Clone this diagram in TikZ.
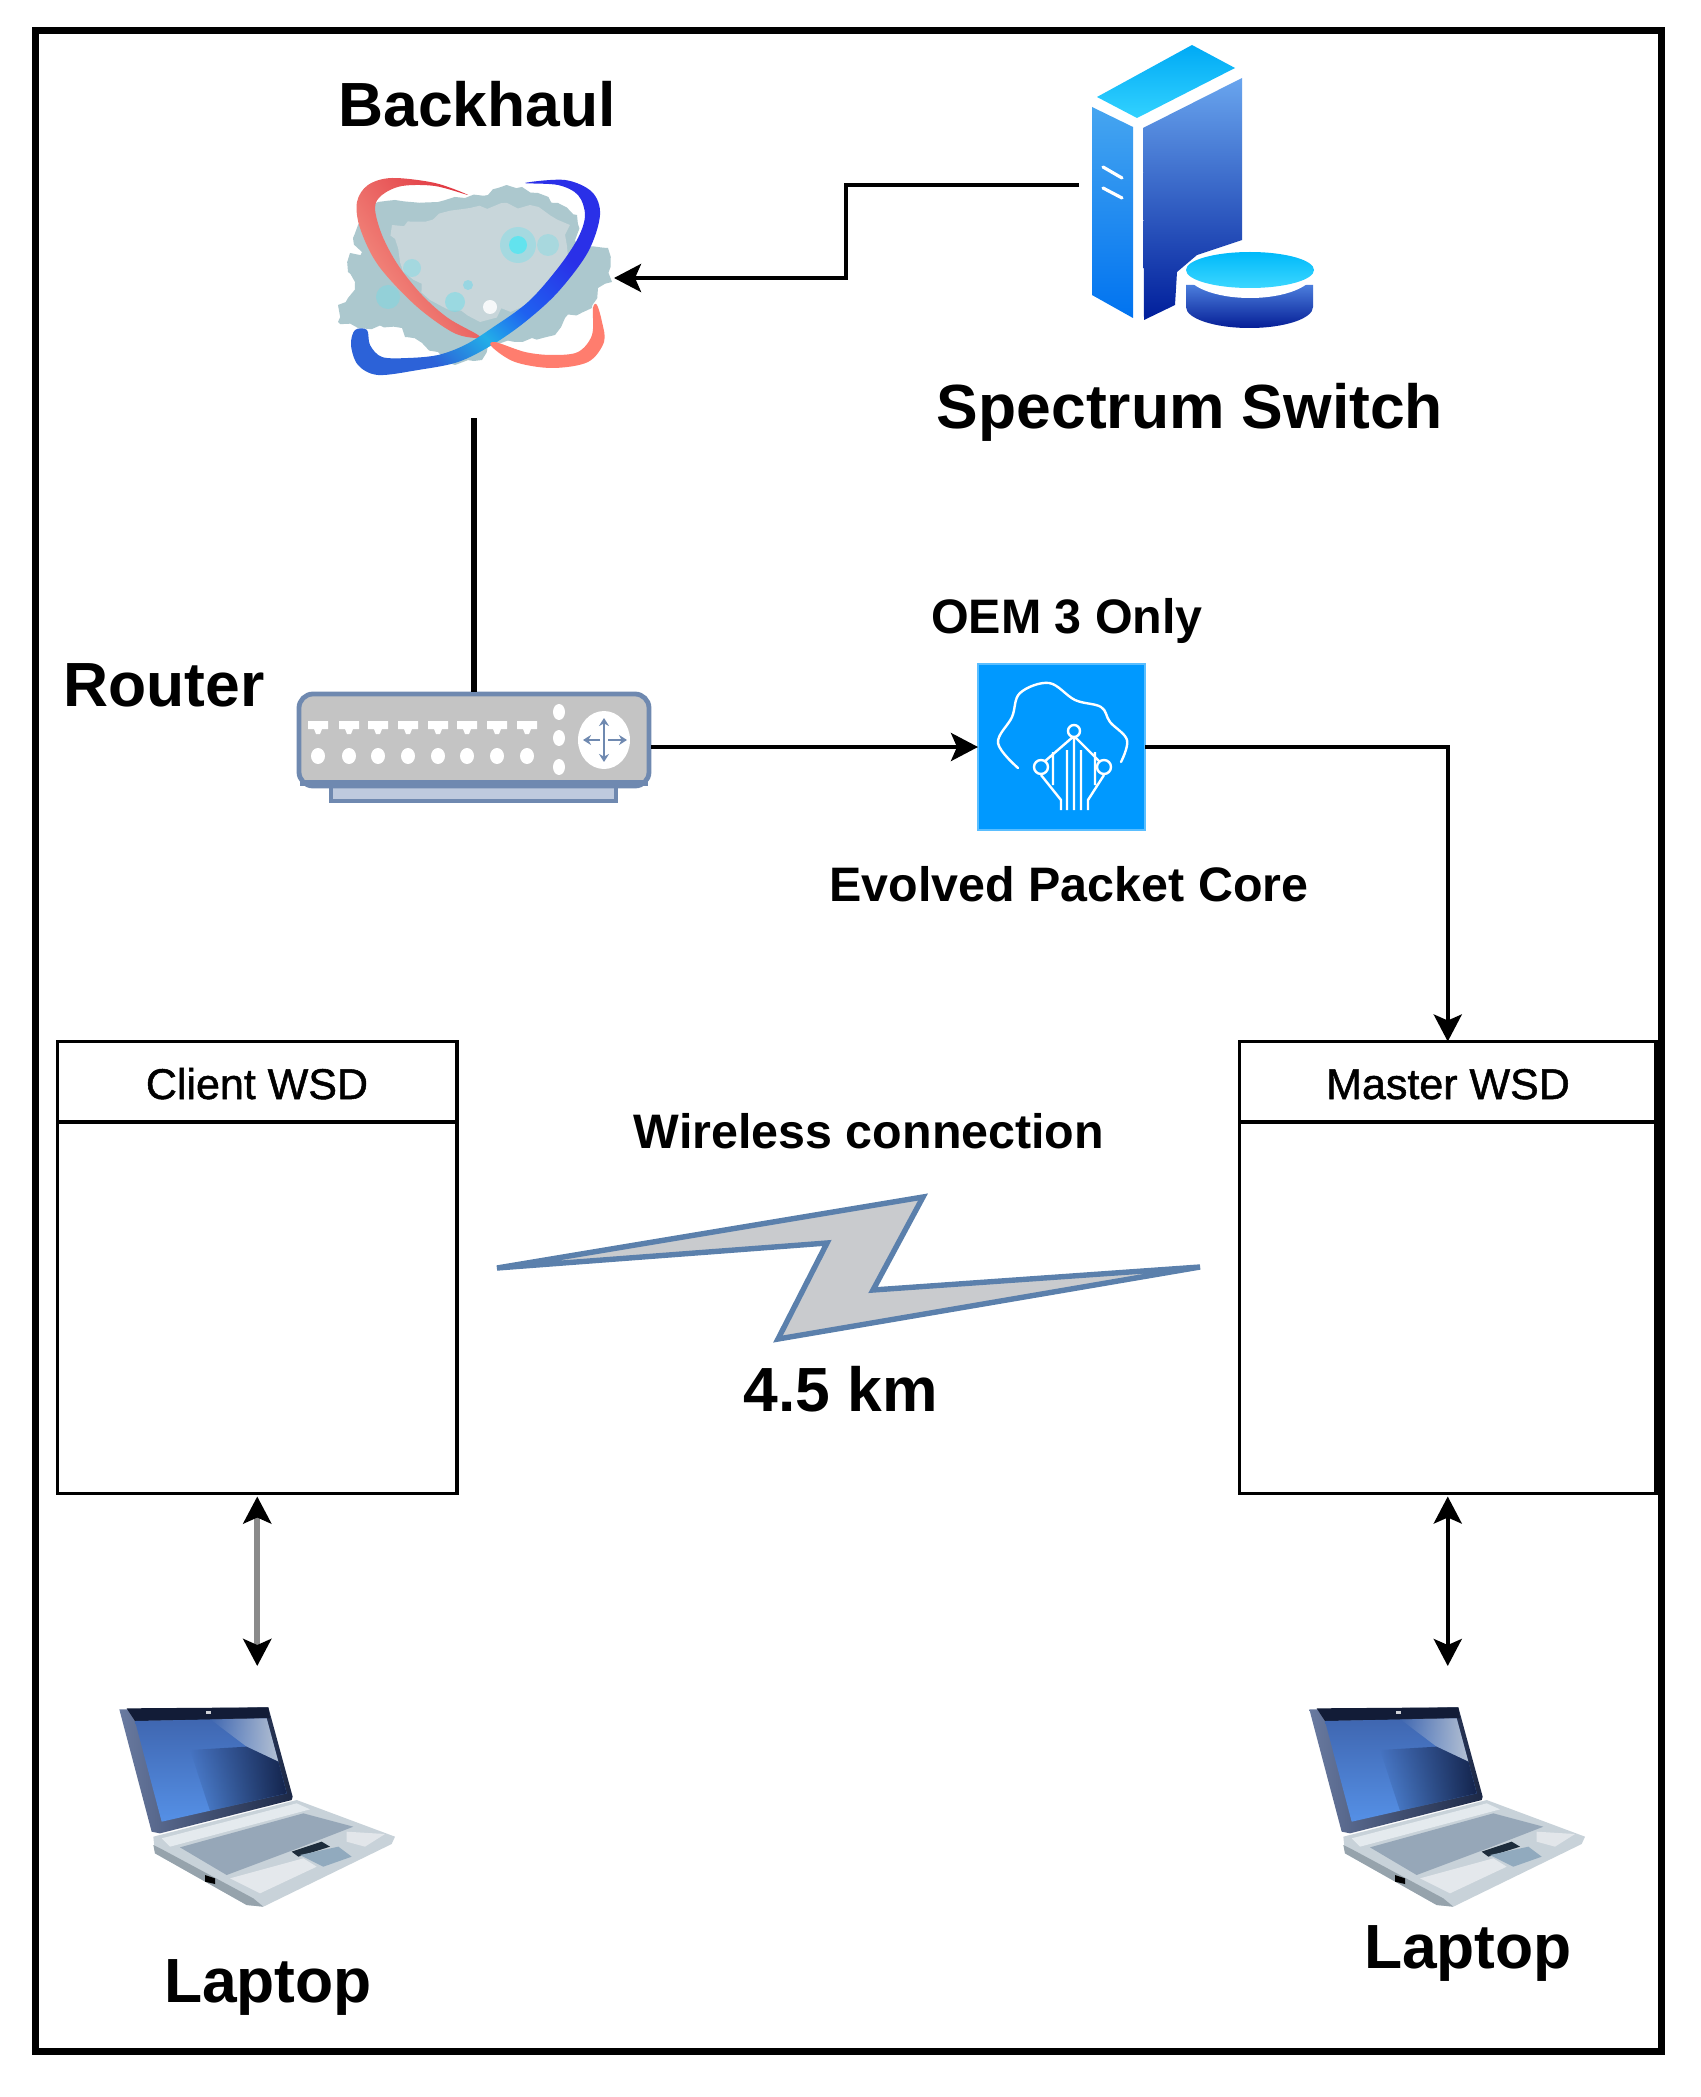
\documentclass[tikz,border=0pt]{standalone}
\usepackage{fontspec}
\setmainfont{Liberation Sans}
\newfontfamily\wsdfont{Liberation Sans}[FakeBold=1.2]
\usetikzlibrary{arrows.meta,shapes.geometric,calc,decorations.pathmorphing,fadings}
\definecolor{rtLine}{HTML}{6F89B0}
\definecolor{rtFill}{HTML}{C4C4C4}
\definecolor{epcBlue}{HTML}{0099FF}
\definecolor{boltLine}{HTML}{5B80AC}
\definecolor{boltFill}{HTML}{C9CBCE}
\definecolor{ringA}{HTML}{2C62D8}
\definecolor{ringB}{HTML}{22AEE8}
\definecolor{ringC}{HTML}{1F62F0}
\definecolor{ringD}{HTML}{2A30E8}
\definecolor{scrA}{HTML}{5590E6}
\definecolor{scrB}{HTML}{3F66B0}
\definecolor{scrC}{HTML}{14244C}
\definecolor{scrD}{HTML}{B4C0D2}
\pgfdeclareverticalshading{ringShade}{100bp}{color(0bp)=(ringA); color(30bp)=(ringA); color(42bp)=(ringB); color(52bp)=(ringC); color(68bp)=(ringD); color(100bp)=(ringD)}
\tikzset{
  iconbox/.style={inner sep=0,outer sep=0,minimum width=#1},
  ghost/.style={draw=none,fill=none},
  big/.style={anchor=base,inner sep=0,font=\fontsize{31.2}{36}\selectfont\bfseries},
  mid/.style={anchor=base,inner sep=0,font=\fontsize{24.2}{29}\selectfont\bfseries},
  small/.style={anchor=base,inner sep=0,font=\wsdfont\fontsize{21.5}{26}\selectfont},
  wsd/.style={draw=black,line width=1.6pt,fill=white,inner sep=0,outer sep=0,minimum width=#1,minimum height=226pt},
  link/.style={draw=black,line width=2pt},
  tip/.style={-{Stealth[length=13.5pt,width=14pt,inset=3pt]}},
  dtip/.style={{Stealth[length=13.5pt,width=14pt,inset=3pt]}-{Stealth[length=13.5pt,width=14pt,inset=3pt]}},
  sock/.style={fill=white},
}
\newcommand{\drawlaptop}[1]{%
\begin{scope}[shift={(#1,1650)},scale=1/3]
  \fill[color={rgb,255:red,200;green,210;blue,217}] (190,560)--(620,450)--(915,560)--(905,582)--(520,770)--(470,765)--(195,610)--cycle;
  \fill[color={rgb,255:red,150;green,163;blue,172}] (190,585)--(195,610)--(470,765)--(520,770)--(490,745)--(220,600)--cycle;
  \fill[color={rgb,255:red,228;green,234;blue,238}] (215,565)--(620,460)--(660,478)--(240,590)--cycle;
  \fill[color={rgb,255:red,150;green,167;blue,184}] (270,592)--(640,490)--(790,530)--(610,600)--(410,675)--cycle;
  \fill[color={rgb,255:red,228;green,232;blue,236}] (420,685)--(640,625)--(680,650)--(510,730)--cycle;
  \fill[color={rgb,255:red,226;green,230;blue,234}] (770,545)--(885,552)--(825,590)--(770,575)--cycle;
  \fill[color={rgb,255:red,30;green,45;blue,60}] (605,605)--(695,575)--(720,590)--(625,620)--cycle;
  \fill[color={rgb,255:red,145;green,170;blue,190}] (630,615)--(745,590)--(785,620)--(700,650)--cycle;
  \fill[black] (345,675)--(375,685)--(375,702)--(345,695)--cycle;
  \shade[left color={rgb,255:red,105;green,122;blue,160},right color={rgb,255:red,28;green,40;blue,70},shading angle=90] (88,178)--(535,172)--(608,440)--(605,450)--(210,550)--(185,545)--cycle;
  \fill[color={rgb,255:red,18;green,28;blue,55}] (110,175)--(535,172)--(540,205)--(135,213)--cycle;
  \shade[bottom color=scrA,top color=scrB] (135,213)--(530,205)--(590,430)--(215,515)--cycle;
  \fill[scrD,path fading=west] (360,207)--(530,205)--(565,335)--(470,290)--cycle;
  \fill[scrC,path fading=west] (300,300)--(470,290)--(565,335)--(590,430)--(360,482)--cycle;
  \fill[white,opacity=.8] (347,182)--(363,182)--(363,191)--(347,191)--cycle;
\end{scope}}
\begin{document}
\begin{tikzpicture}[x=0.5pt,y=-0.5pt]
\pgfmathsetseed{11}
\useasboundingbox (0,0) rectangle (1701,2097);
\fill[white] (0,0) rectangle (1701,2097);
% frame
\draw[black,line width=3.5pt] (35.5,30.5) rectangle (1661.5,2051.5);

% ---- backhaul icon
\node[iconbox=140pt,minimum height=140pt,ghost] (backhaul) at (474,278) {};
\fill[color={rgb,255:red,172;green,200;blue,206},decorate,decoration={random steps,segment length=4pt,amplitude=1.6pt}] (378,202)--(395,200)--(438,202)--(465,198)--(488,195)--(498,188)--(522,187)--(538,193)--(558,203)--(577,215)--(578,248)--(608,248)--(612,282)--(598,288)--(592,308)--(565,318)--(555,335)--(532,338)--(515,342)--(488,345)--(482,360)--(455,365)--(438,352)--(405,337)--(402,328)--(358,328)--(338,322)--(338,305)--(348,298)--(355,282)--(348,272)--(350,253)--(362,252)--(353,238)--(358,225)--cycle;
\fill[color={rgb,255:red,200;green,214;blue,218},decorate,decoration={random steps,segment length=5pt,amplitude=2pt}] (392,225)--(470,208)--(530,205)--(570,225)--(565,270)--(530,300)--(480,322)--(430,300)--(400,262)--cycle;
\fill[color={rgb,255:red,100;green,225;blue,238},opacity=.35] (518,245) circle (18);
\fill[color={rgb,255:red,70;green,232;blue,245},opacity=.7] (518,245) circle (9);
\fill[color={rgb,255:red,110;green,220;blue,232},opacity=.35] (548,245) circle (11);
\fill[color={rgb,255:red,110;green,220;blue,232},opacity=.4] (412,268) circle (9);
\fill[color={rgb,255:red,110;green,220;blue,232},opacity=.4] (388,297) circle (12);
\fill[color={rgb,255:red,110;green,220;blue,232},opacity=.5] (455,302) circle (10);
\fill[color={rgb,255:red,120;green,215;blue,232},opacity=.6] (468,285) circle (5);
\fill[white,opacity=.85] (490,307) circle (7);
% rings
\shade[left color={rgb,255:red,245;green,150;blue,135},right color={rgb,255:red,225;green,55;blue,65},shading angle=125] plot[smooth cycle,tension=.55] coordinates {(468,195) (435,183) (392,178) (368,185) (357,202) (360,228) (378,265) (415,305) (452,332) (475,338) (478,335) (448,318) (422,295) (398,265) (382,235) (375,208) (382,195) (402,186) (435,186)};
\shade[shading=ringShade,shading angle=-45] plot[smooth cycle,tension=.55] coordinates {(525,183) (565,180) (592,192) (600,215) (588,252) (558,292) (525,322) (492,345) (458,362) (418,370) (378,375) (358,365) (351,345) (355,330) (367,330) (370,345) (382,357) (408,358) (438,355) (465,345) (492,328) (528,302) (558,268) (578,238) (585,215) (578,195) (558,185)};
\fill[color={rgb,255:red,255;green,125;blue,110}] plot[smooth cycle,tension=.55] coordinates {(492,347) (515,362) (552,368) (588,362) (604,342) (602,322) (597,305) (593,308) (592,335) (578,352) (552,355) (525,352) (495,342)};

% ---- server icon
\node[iconbox=118.5pt,minimum height=145pt,ghost] (server) at (1197.5,185) {};
\shade[top color={rgb,255:red,0;green,170;blue,245},bottom color={rgb,255:red,50;green,210;blue,255}] (1192,45)--(1235,68)--(1137,118)--(1097,97)--cycle;
\shade[top color={rgb,255:red,70;green,165;blue,240},middle color={rgb,255:red,0;green,145;blue,250},bottom color={rgb,255:red,0;green,115;blue,240}] (1092,107)--(1133,127)--(1133,318)--(1092,295)--cycle;
\shade[top color={rgb,255:red,105;green,165;blue,238},middle color={rgb,255:red,40;green,95;blue,205},bottom color={rgb,255:red,0;green,30;blue,155}] (1143,128)--(1242,78)--(1242,240)--(1197,255)--(1177,272)--(1175,305)--(1144,320)--cycle;
\draw[white,line width=1.6pt,line cap=round] (1103,167)--(1122,178) (1103,188)--(1122,198);
\shade[top color={rgb,255:red,75;green,125;blue,220},bottom color={rgb,255:red,5;green,30;blue,150}] (1186,285) -- (1186,307) arc[start angle=180,end angle=360,x radius=63.5,y radius=-21] -- (1313,285) -- cycle;
\fill[white] (1250,272) ellipse [x radius=64,y radius=26];
\shade[top color={rgb,255:red,0;green,185;blue,250},bottom color={rgb,255:red,60;green,215;blue,255}] (1250,270) ellipse [x radius=64,y radius=18];

% ---- router icon
\node[iconbox=177pt,minimum height=55pt,ghost] (router) at (474,747) {};
\draw[rtLine,fill={rgb,255:red,190;green,202;blue,222},line width=2pt] (331,782) rectangle (616,801);
\draw[rtLine,fill=rtFill,line width=2.4pt,rounded corners=7pt] (299,694) rectangle (649,786);
\fill[rtLine] (300,780) rectangle (648,786);
\foreach \sx in {318,349,378,408,438,467,497,527}{
  \fill[white] (\sx-10,721) -- (\sx+10,721) -- (\sx+10,729) -- (\sx+4,729) -- (\sx+2,734) -- (\sx-2,734) -- (\sx-4,729) -- (\sx-10,729) -- cycle;
  \fill[sock] (\sx,756) ellipse [x radius=7,y radius=8];
}
\foreach \dy in {712,738,767}{\fill[sock] (559,\dy) ellipse [x radius=6,y radius=8];}
\fill[white] (604,740) ellipse [x radius=26,y radius=29];
\draw[rtLine,line width=1.4pt,{Stealth[length=4pt,width=5pt]}-{Stealth[length=4pt,width=5pt]}] (604,718)--(604,762);
\draw[rtLine,line width=1.4pt,-{Stealth[length=4pt,width=5pt]}] (600,740)--(583,740);
\draw[rtLine,line width=1.4pt,-{Stealth[length=4pt,width=5pt]}] (608,740)--(627,740);

% ---- EPC icon
\node[iconbox=83.5pt,minimum height=83pt,fill=epcBlue,draw={rgb,255:red,90;green,190;blue,255},line width=.8pt] (epc) at (1061.5,747) {};
\draw[white,line width=1.2pt,line cap=round,line join=round] plot[smooth,tension=.6] coordinates {(1018,768) (998,743) (1012,717) (1020,693) (1049,683) (1075,700) (1101,707) (1110,722) (1127,740) (1121,762)};
\draw[white,line width=1.2pt,line join=round] (1074,736)--(1044,762) (1074,736)--(1100,762)
  (1074,736)--(1074,810) (1067,750)--(1067,810) (1081,750)--(1081,810)
  (1041,775)--(1061,800)--(1061,810) (1104,775)--(1088,800)--(1088,810)
  (1053,752)--(1053,785) (1095,752)--(1095,785);
\draw[white,fill=epcBlue,line width=1.2pt] (1074,731) circle (6) (1041,767) circle (7) (1104,767) circle (7);

% ---- WSD boxes
\node[wsd=199.75pt] (client) at (257.25,1267.5) {};
\node[wsd=208.25pt] (master) at (1447.75,1267.5) {};
\coordinate (wsdH) at (0,1122);
\draw[black,line width=1.6pt] (client.west |- wsdH) -- (client.east |- wsdH);
\draw[black,line width=1.6pt] (master.west |- wsdH) -- (master.east |- wsdH);
\node[small] (clientT) at (257,1099) {Client WSD};
\node[small] (masterT) at (1448,1099) {Master WSD};

% ---- bolt
\draw[boltLine,fill=boltFill,line width=2.7pt,miter limit=6] (497,1268)--(923,1197)--(873,1290)--(1200,1267)--(778,1339)--(827,1243)--cycle;

% ---- laptops
\node[iconbox=139pt,minimum height=121pt,ghost] (lapA) at (257,1787) {};
\node[iconbox=139pt,minimum height=121pt,ghost] (lapB) at (1448,1787) {};
\drawlaptop{90}
\drawlaptop{1280}

% ---- labels
\node[big] (tBack) at (477,127) {Backhaul};
\node[big] (tSpec) at (1190,428) {Spectrum Switch};
\node[big] (tRout) at (164,706) {Router};
\node[mid] (tOem) at (1067,633) {OEM 3 Only};
\node[mid] (tEpc) at (1069,901) {Evolved Packet Core};
\node[mid] (tWire) at (869,1148) {Wireless connection};
\node[big] (tKm) at (841,1411) {4.5 km};
\node[big] (tLapA) at (268,2002) {Laptop};
\node[big] (tLapB) at (1468,1968) {Laptop};

% ---- connectors
\coordinate (bendS) at (846,0);
\draw[link,tip] (server.west) -- (server.west -| bendS) -- (bendS |- backhaul.east) -- (backhaul.east);
\draw[link,line width=3pt] (backhaul.south) -- (router.north);
\draw[link,tip] (router.east) -- (epc.west);
\draw[link,tip] (epc.east) -| (master.north);
\draw[line width=3pt,draw={rgb,255:red,138;green,138;blue,138},{Stealth[length=13.5pt,width=14pt,inset=3pt,black]}-{Stealth[length=13.5pt,width=14pt,inset=3pt,black]},shorten <=1.5pt] (client.south) -- (lapA.north -| client.south);
\draw[link,dtip,shorten <=1.5pt] (master.south) -- (lapB.north -| master.south);
\end{tikzpicture}
\end{document}
